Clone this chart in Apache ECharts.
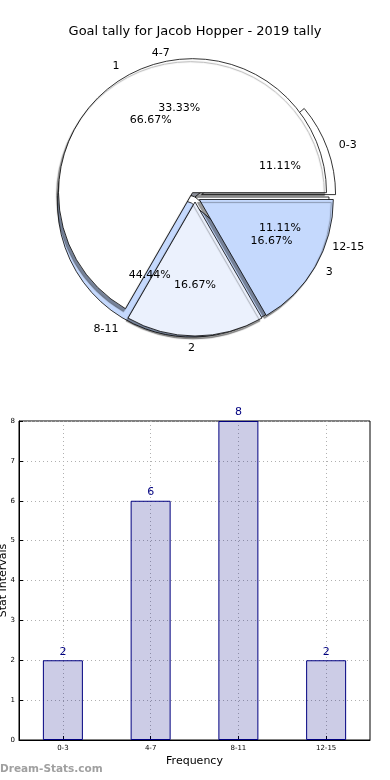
<!DOCTYPE html>
<html>
<head>
<meta charset="utf-8">
<script src="https://cdn.jsdelivr.net/npm/echarts@6/dist/echarts.min.js"></script>
<style>
html,body{margin:0;padding:0;background:#fff;}
#c{width:390px;height:780px;}
</style>
</head>
<body>
<div id="c"></div>
<script>
// ---- data ----
var titleText = 'Goal tally for Jacob Hopper - 2019 tally';
var intervalNames = ['0-3', '4-7', '8-11', '12-15'];
var intervalCounts = [2, 6, 8, 2];
var groupNames = ['1', '2', '3'];
var groupShares = [4, 1, 1];
var yTicks = [0, 1, 2, 3, 4, 5, 6, 7, 8];
var xAxisName = 'Frequency';
var yAxisName = 'Stat Intervals';
var watermark = 'Dream-Stats.com';

// ---- styles ----
var intervalColors = ['#ffffff', '#ebf1fd', '#c5d9fd', '#ffffff'];
var intervalExploded = [true, false, true, false];
var intervalLabelExploded = [true, true, true, true];
var groupColors = ['#ffffff', '#ebf1fd', '#c5d9fd'];
var groupExploded = [true, true, true];

var FONT = 'DejaVu Sans';
var CX = 195, CY = 197, R = 134;

function total(arr) { return arr.reduce(function (a, b) { return a + b; }, 0); }

function pieData(names, vals, colors, exploded) {
  return names.map(function (n, i) {
    var d = { name: n, value: vals[i], selected: exploded[i] };
    if (colors) d.itemStyle = { color: colors[i] };
    return d;
  });
}

function pctPie(names, vals, exploded, offset, z) {
  var sum = total(vals);
  return {
    type: 'pie', center: [CX, CY], radius: [0, R * 1.2], startAngle: 0, clockwise: false,
    silent: true, z: z, avoidLabelOverlap: false, selectedMode: 'multiple', selectedOffset: offset,
    itemStyle: { color: 'rgba(0,0,0,0)', borderWidth: 0 },
    select: { itemStyle: { color: 'rgba(0,0,0,0)', borderWidth: 0 } },
    label: {
      show: true, position: 'inside', color: '#000', fontFamily: FONT, fontSize: 11,
      formatter: function (p) { return (p.value / sum * 100).toFixed(2) + '%'; }
    },
    labelLayout: { hideOverlap: false },
    labelLine: { show: false },
    emphasis: { disabled: true },
    data: pieData(names, vals, null, exploded)
  };
}
function basePie(names, vals, colors, exploded, offset, z, shadow) {
  return {
    type: 'pie', center: [CX, CY], radius: [0, R], startAngle: 0, clockwise: false,
    z: z, avoidLabelOverlap: false, selectedMode: 'multiple', selectedOffset: offset,
    itemStyle: Object.assign({ borderColor: '#000', borderWidth: 0.8 }, shadow ? {
      shadowColor: 'rgba(0,0,0,0.4)', shadowBlur: 1, shadowOffsetX: -2, shadowOffsetY: 3 } : {}),
    select: { itemStyle: { borderColor: '#000', borderWidth: 0.8 } },
    label: {
      show: true, position: 'outside', color: '#000', fontFamily: FONT, fontSize: 11,
      formatter: '{b}', distanceToLabelLine: 0
    },
    labelLayout: { hideOverlap: false },
    labelLine: { show: false, length: 12, length2: 0 },
    emphasis: { disabled: true },
    data: pieData(names, vals, colors, exploded)
  };
}

var chart = echarts.init(document.getElementById('c'), null, { renderer: 'canvas' });
chart.setOption({
  animation: false,
  backgroundColor: '#ffffff',
  title: {
    text: titleText, left: 'center', top: 20,
    textStyle: { fontFamily: FONT, fontSize: 13, fontWeight: 'normal', color: '#000' }
  },
  grid: { left: 19, right: 20, top: 421, bottom: 40, containLabel: false, outerBoundsMode: 'none',
          show: true, borderColor: '#000', borderWidth: 1, backgroundColor: 'transparent' },
  xAxis: {
    type: 'category', data: intervalNames,
    name: xAxisName, nameLocation: 'middle', nameGap: 16, nameMoveOverlap: false,
    nameTextStyle: { fontFamily: FONT, fontSize: 11, color: '#000' },
    axisLine: { lineStyle: { color: '#000', width: 1 } },
    axisTick: { show: true, alignWithLabel: true, inside: true, length: 4, lineStyle: { color: '#000' } },
    axisLabel: { fontFamily: FONT, fontSize: 7, color: '#000', margin: 5 },
    splitLine: { show: true, alignWithLabel: true, lineStyle: { color: '#b0b0b0', type: [1, 3], width: 1 } }
  },
  yAxis: {
    type: 'value', min: yTicks[0], max: yTicks[yTicks.length - 1], interval: 1,
    name: yAxisName, nameLocation: 'middle', nameGap: 10, nameRotate: 90, nameMoveOverlap: false,
    nameTextStyle: { fontFamily: FONT, fontSize: 11, color: '#000' },
    axisLine: { show: true, lineStyle: { color: '#000', width: 1 } },
    axisTick: { show: true, inside: true, length: 4, lineStyle: { color: '#000' } },
    axisLabel: { fontFamily: FONT, fontSize: 7, color: '#000', margin: 4 },
    splitLine: { show: true, lineStyle: { color: '#b0b0b0', type: [1, 3], width: 1 } }
  },
  graphic: [{
    type: 'text', left: 0, top: 764,
    style: { text: watermark, fill: '#a0a0a0', font: 'bold 10.5px "DejaVu Sans"' }
  }],
  series: [
    basePie(intervalNames, intervalCounts, intervalColors, intervalExploded, 7, 2, false),
    basePie(groupNames, groupShares, groupColors, groupExploded, 5, 3, true),
    pctPie(intervalNames, intervalCounts, intervalLabelExploded, 7, 4),
    pctPie(groupNames, groupShares, groupExploded, 5, 5),
    {
      type: 'bar', data: intervalCounts, barWidth: 40,
      itemStyle: { color: 'rgba(0,0,128,0.2)', borderColor: '#000080', borderWidth: 1 },
      label: { show: true, position: 'top', distance: 3, color: '#000080', fontFamily: FONT, fontSize: 11 },
      emphasis: { disabled: true }
    }
  ]
});
</script>
</body>
</html>
